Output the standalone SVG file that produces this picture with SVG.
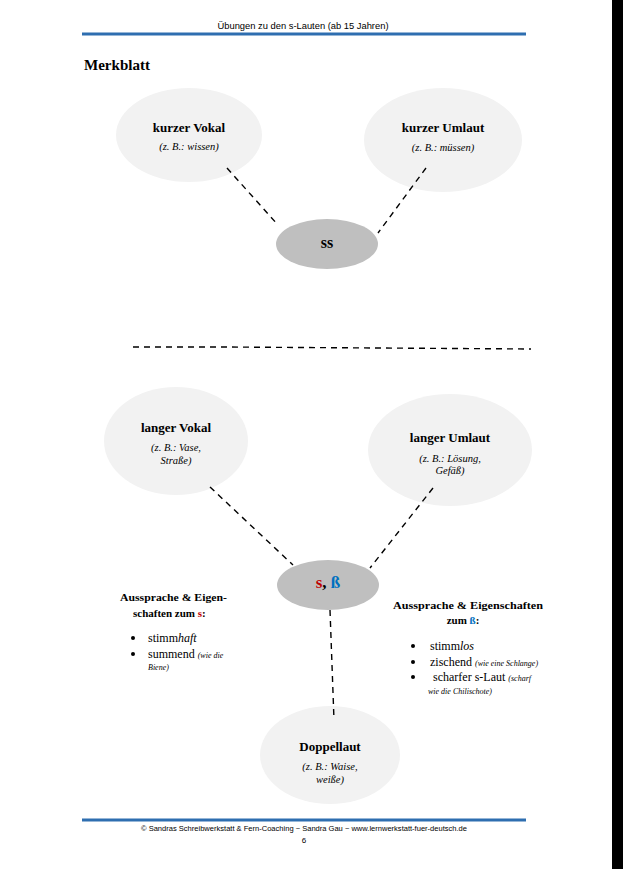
<svg xmlns="http://www.w3.org/2000/svg" width="623" height="869" viewBox="0 0 623 869">
<style>
.serif{font-family:"Liberation Serif","DejaVu Serif",serif;fill:#000}
.b{font-weight:bold}
.i{font-style:italic}
.t{font-size:13px;font-weight:bold;text-anchor:middle}
.ex{font-size:10.5px;font-style:italic;text-anchor:middle}
.light{fill:#F2F2F2}
.dark{fill:#BFBFBF}
.con{stroke:#000;stroke-width:1.4;stroke-dasharray:6,5;fill:none}
.sans{font-family:"Liberation Sans","DejaVu Sans",sans-serif;fill:#000}
.rule{stroke:#2E6EB0;stroke-width:3}
.item{font-size:12px}
.small{font-size:8px;font-style:italic}
</style>
<rect x="0" y="0" width="623" height="869" fill="#fff"/>
<rect x="612" y="0" width="11" height="869" fill="#000"/>

<g id="header">
<text class="sans" x="303" y="29" font-size="9" text-anchor="middle" textLength="171" lengthAdjust="spacingAndGlyphs">Übungen zu den s-Lauten (ab 15 Jahren)</text>
<line class="rule" x1="82" y1="34" x2="526" y2="34"/>
<text class="serif b" x="84" y="70" font-size="14" textLength="66" lengthAdjust="spacingAndGlyphs">Merkblatt</text>
</g>

<g id="kurzer-vokal">
<ellipse class="light" cx="189" cy="135" rx="73" ry="47"/>
<text class="serif t" x="189" y="132">kurzer Vokal</text>
<text class="serif ex" x="189" y="150">(z. B.: wissen)</text>
</g>

<g id="kurzer-umlaut">
<ellipse class="light" cx="443" cy="140" rx="79" ry="52"/>
<text class="serif t" x="443" y="132">kurzer Umlaut</text>
<text class="serif ex" x="443" y="151">(z. B.: müssen)</text>
</g>

<g id="ss">
<ellipse class="dark" cx="327" cy="244" rx="51" ry="25"/>
<text class="serif b" x="327" y="248" font-size="16" text-anchor="middle">ss</text>
</g>

<g id="langer-vokal">
<ellipse class="light" cx="176" cy="441" rx="72" ry="54"/>
<text class="serif t" x="176" y="432">langer Vokal</text>
<text class="serif ex" x="176" y="451">(z. B.: Vase,</text>
<text class="serif ex" x="176" y="464">Straße)</text>
</g>

<g id="langer-umlaut">
<ellipse class="light" cx="450" cy="450" rx="82" ry="56"/>
<text class="serif t" x="450" y="442">langer Umlaut</text>
<text class="serif ex" x="450" y="462">(z. B.: Lösung,</text>
<text class="serif ex" x="450" y="474">Gefäß)</text>
</g>

<g id="s-sz">
<ellipse class="dark" cx="328" cy="585" rx="51" ry="25"/>
<text class="serif b" x="328" y="588" font-size="17" text-anchor="middle"><tspan fill="#C00000">s</tspan>, <tspan fill="#0070C0">ß</tspan></text>
</g>

<g id="doppellaut">
<ellipse class="light" cx="330" cy="755" rx="70" ry="49"/>
<text class="serif t" x="330" y="751">Doppellaut</text>
<text class="serif ex" x="330" y="770">(z. B.: Waise,</text>
<text class="serif ex" x="330" y="783">weiße)</text>
</g>

<g id="connectors">
<line class="con" x1="227" y1="168" x2="278" y2="225"/>
<line class="con" x1="426" y1="168" x2="378" y2="233"/>
<polyline class="con" points="133,347 222,347 531,349" stroke-width="1.6"/>
<line class="con" x1="210" y1="487" x2="293" y2="565"/>
<line class="con" x1="433" y1="488" x2="370" y2="568"/>
<line class="con" x1="330" y1="610" x2="334" y2="720"/>
</g>

<g id="s-eigenschaften">
<text class="serif b" x="120" y="601" font-size="11" textLength="107" lengthAdjust="spacingAndGlyphs">Aussprache &amp; Eigen-</text>
<text class="serif b" x="133" y="617" font-size="11">schaften zum <tspan fill="#C00000">s</tspan>:</text>
<circle cx="133" cy="638" r="2"/>
<text class="serif item" x="148" y="642">stimm<tspan class="i">haft</tspan></text>
<circle cx="133" cy="654" r="2"/>
<text class="serif item" x="148" y="658">summend <tspan class="small">(wie die</tspan></text>
<text class="serif small" x="148" y="670">Biene)</text>
</g>

<g id="sz-eigenschaften">
<text class="serif b" x="393" y="609" font-size="11" textLength="150" lengthAdjust="spacingAndGlyphs">Aussprache &amp; Eigenschaften</text>
<text class="serif b" x="463" y="624" font-size="11" text-anchor="middle">zum <tspan fill="#0070C0">ß</tspan>:</text>
<circle cx="413" cy="646" r="2"/>
<text class="serif item" x="430" y="650">stimm<tspan class="i">los</tspan></text>
<circle cx="413" cy="662" r="2"/>
<text class="serif item" x="430" y="666">zischend <tspan class="small" font-size="8.5">(wie eine Schlange)</tspan></text>
<circle cx="413" cy="677" r="2"/>
<text class="serif item" x="433" y="681">scharfer s-Laut <tspan class="small">(scharf</tspan></text>
<text class="serif small" x="428" y="694">wie die Chilischote)</text>
</g>

<g id="footer">
<line class="rule" x1="82" y1="820" x2="526" y2="820"/>
<text class="sans" x="304" y="831" font-size="7.5" text-anchor="middle" textLength="326" lengthAdjust="spacingAndGlyphs">© Sandras Schreibwerkstatt &amp; Fern-Coaching ~ Sandra Gau ~ www.lernwerkstatt-fuer-deutsch.de</text>
<text class="sans" x="304" y="843" font-size="8" text-anchor="middle">6</text>
</g>
</svg>
